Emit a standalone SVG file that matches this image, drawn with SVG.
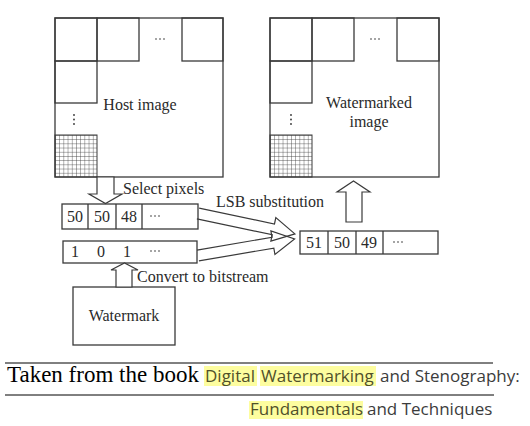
<svg xmlns="http://www.w3.org/2000/svg" width="530" height="426" viewBox="0 0 530 426">
<style>
.box{fill:none;stroke:#3a3a3a;stroke-width:1.3}
.cell{fill:none;stroke:#3a3a3a;stroke-width:1.3}
.grid{stroke:#3a3a3a;stroke-width:0.8}
.arr{fill:#fff;stroke:#3a3a3a;stroke-width:1.2;stroke-linejoin:miter}
.arrN{fill:none;stroke:#3a3a3a;stroke-width:1.2}
.t{font-family:"Liberation Serif",serif;font-size:16px;fill:#2a2a2a}
.n{font-family:"Liberation Serif",serif;font-size:16px;fill:#2a2a2a;text-anchor:middle}
.vd{fill:#333}
.hl{fill:#fdfd9f}
.s{font-family:"Open Sans",sans-serif;font-size:17px;fill:#3c3c3c}
.sh{fill:#50502a}
</style>
<defs>
<pattern id="gp" x="55" y="135" width="4.2" height="4.2" patternUnits="userSpaceOnUse">
<path d="M0 0H4.2M0 0V4.2" class="grid"/>
</pattern>
<pattern id="gp2" x="270" y="135" width="4.2" height="4.2" patternUnits="userSpaceOnUse">
<path d="M0 0H4.2M0 0V4.2" class="grid"/>
</pattern>
<g id="hdots"><circle cx="-4" cy="0" r="0.8"/><circle cx="0" cy="0" r="0.8"/><circle cx="4" cy="0" r="0.8"/></g>
</defs>

<g id="host-image">
<rect class="box" x="55" y="18" width="168" height="159"/>
<rect class="cell" x="55" y="18" width="42" height="43"/>
<rect class="cell" x="97" y="18" width="42" height="43"/>
<rect class="cell" x="182" y="18" width="41" height="43"/>
<rect class="cell" x="55" y="61" width="42" height="42"/>
<rect x="55" y="135" width="42" height="42" fill="url(#gp)" stroke="#3a3a3a" stroke-width="1"/>
<use href="#hdots" x="160" y="39" class="vd"/>
<circle class="vd" cx="74" cy="115" r="0.9"/><circle class="vd" cx="74" cy="119.5" r="0.9"/><circle class="vd" cx="74" cy="124" r="0.9"/>
<text class="t" x="140" y="110" text-anchor="middle">Host image</text>
</g>

<g id="watermarked-image">
<rect class="box" x="270" y="18" width="169" height="159"/>
<rect class="cell" x="270" y="18" width="42" height="43"/>
<rect class="cell" x="312" y="18" width="42" height="43"/>
<rect class="cell" x="397" y="18" width="42" height="43"/>
<rect class="cell" x="270" y="61" width="42" height="42"/>
<rect x="270" y="135" width="42" height="42" fill="url(#gp2)" stroke="#3a3a3a" stroke-width="1"/>
<use href="#hdots" x="375" y="39" class="vd"/>
<circle class="vd" cx="291" cy="115" r="0.9"/><circle class="vd" cx="291" cy="119.5" r="0.9"/><circle class="vd" cx="291" cy="124" r="0.9"/>
<text class="t" x="369" y="108" text-anchor="middle">Watermarked</text>
<text class="t" x="369" y="127" text-anchor="middle">image</text>
</g>

<g id="pixels">
<rect class="box" x="62" y="204" width="136" height="25"/>
<path class="cell" d="M88 204V229M116 204V229M142 204V229"/>
<text class="n" x="75" y="222">50</text>
<text class="n" x="102" y="222">50</text>
<text class="n" x="129" y="222">48</text>
<use href="#hdots" x="155" y="216" class="vd"/>
</g>

<g id="bitstream">
<rect class="box" x="63" y="241" width="134" height="22"/>
<text class="n" x="75" y="257">1</text>
<text class="n" x="101" y="257">0</text>
<text class="n" x="127" y="257">1</text>
<use href="#hdots" x="155" y="251" class="vd"/>
</g>

<g id="watermark">
<rect class="box" x="73" y="287" width="102" height="58"/>
<text class="t" x="124" y="321" text-anchor="middle">Watermark</text>
</g>

<g id="result">
<rect class="box" x="300" y="231" width="138" height="23"/>
<path class="cell" d="M328 231V254M356 231V254M383 231V254"/>
<text class="n" x="314" y="248">51</text>
<text class="n" x="342" y="248">50</text>
<text class="n" x="369" y="248">49</text>
<use href="#hdots" x="398" y="242" class="vd"/>
</g>

<g id="connectors">
<polygon class="arr" points="97,177 97,194 89,194 105.5,203.5 122,194 114,194 114,177"/>
<polygon class="arr" points="116,287 116,270 111,270 124.5,263 138,270 132,270 132,287"/>
<polygon class="arr" points="346,222 346,192 337,192 353.5,181 370,192 362,192 362,222"/>
<g transform="translate(198,213.5) rotate(11.9)">
<path class="arrN" d="M0 -5.5H77V-12L99 0L77 12V5.5H0"/>
</g>
<g transform="translate(198,255.5) rotate(-9.7)">
<path class="arrN" d="M0 -5.5H76V-12L98 0L76 12V5.5H0"/>
</g>
<text class="t" x="123" y="194">Select pixels</text>
<text class="t" x="216" y="207">LSB substitution</text>
<text class="t" x="137" y="282">Convert to bitstream</text>
</g>

<g id="caption">
<line x1="5" y1="363" x2="493" y2="363" stroke="#000" stroke-width="1"/>
<line x1="5" y1="395" x2="494" y2="395" stroke="#000" stroke-width="1"/>
<rect class="hl" x="204" y="366" width="53" height="20"/>
<rect class="hl" x="260" y="366" width="116" height="20"/>
<rect class="hl" x="249" y="401" width="114" height="18"/>
<text x="7" y="382" font-family="Liberation Serif,serif" font-size="23" fill="#000">Taken from the book</text>
<text class="s" y="382"><tspan class="sh" x="205">Digital</tspan><tspan class="sh" x="261">Watermarking</tspan><tspan x="380">and Stenography:</tspan></text>
<text class="s" y="415"><tspan class="sh" x="250">Fundamentals</tspan><tspan x="367">and Techniques</tspan></text>
</g>
</svg>
